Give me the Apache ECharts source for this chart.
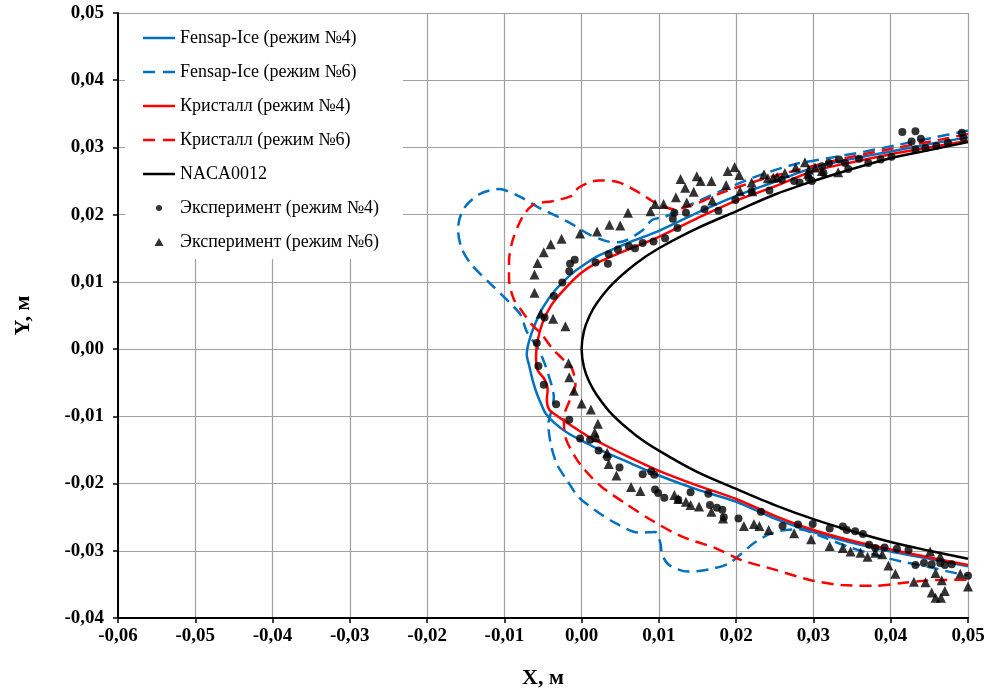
<!DOCTYPE html>
<html>
<head>
<meta charset="utf-8">
<script src="https://cdn.jsdelivr.net/npm/echarts@6/dist/echarts.min.js"></script>
<style>
    html, body { margin: 0; padding: 0; background: #fff; }
    #ice-shape-chart { width: 991px; height: 694px; }
</style>
</head>
<body>
<div id="ice-shape-chart"></div>
<script>
"use strict";

// профиль NACA0012 (передняя кромка)
const naca0012 = [
    [0.05, 0.0308], [0.045, 0.0296], [0.04, 0.0284], [0.035, 0.0268], [0.03, 0.025], [0.025, 0.023],
    [0.02, 0.0205], [0.015, 0.018], [0.01, 0.015], [0.007, 0.0127], [0.004, 0.0097], [0.002, 0.0069],
    [0.001, 0.0049], [0.0003, 0.0027], [0, 0], [0.0003, -0.0027], [0.001, -0.0049], [0.002, -0.0069],
    [0.004, -0.0098], [0.007, -0.0128], [0.01, -0.0151], [0.015, -0.0183], [0.02, -0.0208],
    [0.025, -0.0232], [0.03, -0.0253], [0.035, -0.0271], [0.04, -0.0287], [0.045, -0.03], [0.05, -0.0312]
];

const fensapMode4 = [
    [0.05, 0.0315], [0.045, 0.0305], [0.04, 0.0294], [0.035, 0.0283], [0.03, 0.027], [0.025, 0.0249],
    [0.02, 0.0228], [0.015, 0.0203], [0.01, 0.0176], [0.006, 0.0158], [0.0022, 0.0139], [0.0005, 0.0127],
    [-0.0013, 0.0112], [-0.0034, 0.0088], [-0.0049, 0.0064], [-0.006, 0.0038], [-0.0068, 0.0012],
    [-0.0071, -0.0008], [-0.0068, -0.0024], [-0.0063, -0.0048], [-0.0058, -0.0066], [-0.0053, -0.008],
    [-0.0047, -0.0095], [-0.0036, -0.0109], [-0.0019, -0.0124], [0.0005, -0.0139], [0.0022, -0.0149],
    [0.006, -0.0168], [0.01, -0.0188], [0.015, -0.0209], [0.02, -0.0227], [0.025, -0.0252],
    [0.03, -0.0272], [0.035, -0.0288], [0.04, -0.0301], [0.045, -0.0312], [0.05, -0.0323]
];

const fensapMode6 = [
    [0.05, 0.0325], [0.0453, 0.0314], [0.041, 0.0304], [0.0367, 0.0294], [0.0324, 0.0285], [0.0276, 0.0275],
    [0.0229, 0.0258], [0.0186, 0.0238], [0.0147, 0.0218], [0.0108, 0.0197], [0.0091, 0.0192],
    [0.0078, 0.0176], [0.0048, 0.0159], [0.0031, 0.0161], [0.0009, 0.0171], [-0.0017, 0.0189],
    [-0.0056, 0.0211], [-0.0082, 0.0228], [-0.0107, 0.0238], [-0.0133, 0.023], [-0.0153, 0.0208],
    [-0.016, 0.0179], [-0.0155, 0.0149], [-0.0142, 0.0125], [-0.0116, 0.0095], [-0.0094, 0.007],
    [-0.0079, 0.0051], [-0.0071, 0.0026], [-0.0058, 0.0004], [-0.0049, -0.0018], [-0.0043, -0.0038],
    [-0.0036, -0.0072], [-0.0038, -0.0087], [-0.0043, -0.0112], [-0.004, -0.0141], [-0.0032, -0.0171],
    [-0.0019, -0.0195], [-0.0004, -0.022], [0.0018, -0.024], [0.0044, -0.0259], [0.0074, -0.0273],
    [0.0095, -0.0272], [0.0102, -0.0289], [0.0104, -0.0305], [0.0113, -0.0321], [0.0138, -0.0331],
    [0.0164, -0.0328], [0.019, -0.0319], [0.0207, -0.0304], [0.0225, -0.0287], [0.025, -0.0272],
    [0.0281, -0.0268], [0.0311, -0.0279], [0.0345, -0.0294], [0.038, -0.0306], [0.0414, -0.0316],
    [0.0445, -0.0323], [0.0475, -0.0331], [0.05, -0.0337]
];

const kristallMode4 = [
    [0.05, 0.031], [0.045, 0.03], [0.04, 0.029], [0.035, 0.0278], [0.03, 0.0265], [0.025, 0.0242],
    [0.02, 0.0221], [0.015, 0.0195], [0.01, 0.0167], [0.006, 0.0148], [0.0018, 0.0127], [-0.0002, 0.0112],
    [-0.0023, 0.0088], [-0.004, 0.0064], [-0.0051, 0.0038], [-0.0057, 0.0012], [-0.0059, -0.0011],
    [-0.0057, -0.0031], [-0.0048, -0.0045], [-0.0044, -0.006], [-0.0045, -0.0075], [-0.0042, -0.009],
    [-0.0032, -0.0099], [-0.0013, -0.0114], [0.0007, -0.0129], [0.0022, -0.0138], [0.006, -0.016],
    [0.01, -0.0181], [0.015, -0.0203], [0.02, -0.0223], [0.025, -0.0248], [0.03, -0.0269],
    [0.035, -0.0285], [0.04, -0.0298], [0.045, -0.031], [0.05, -0.0321]
];

const kristallMode6 = [
    [0.05, 0.032], [0.0475, 0.0314], [0.041, 0.03], [0.0345, 0.0285], [0.0281, 0.0267], [0.0229, 0.0251],
    [0.018, 0.0232], [0.0145, 0.0215], [0.0121, 0.0208], [0.0095, 0.0218], [0.0074, 0.0233],
    [0.0048, 0.0248], [0.0022, 0.0251], [-0.0004, 0.024], [-0.0013, 0.0228], [-0.0038, 0.022],
    [-0.006, 0.0216], [-0.0073, 0.0203], [-0.0082, 0.0184], [-0.009, 0.0159], [-0.0094, 0.013],
    [-0.0094, 0.0105], [-0.0088, 0.0075], [-0.0077, 0.0056], [-0.0064, 0.0036], [-0.0051, 0.0021],
    [-0.0038, 0.0001], [-0.0025, -0.0014], [-0.0013, -0.0028], [-0.0008, -0.0053], [-0.0015, -0.0075],
    [-0.0023, -0.0102], [-0.0021, -0.0131], [-0.0008, -0.0161], [0.0005, -0.0181], [0.0026, -0.0205],
    [0.0057, -0.023], [0.0091, -0.0255], [0.013, -0.0279], [0.0173, -0.0296], [0.0207, -0.0314],
    [0.025, -0.0328], [0.0294, -0.0343], [0.0337, -0.0351], [0.038, -0.0352], [0.0414, -0.0348],
    [0.0449, -0.0344], [0.05, -0.0343]
];

const experimentMode4 = [
    [-0.0015, 0.0127], [-0.0009, 0.0133], [-0.0016, 0.0116], [-0.0025, 0.0099], [-0.0036, 0.0079],
    [-0.0048, 0.0047], [-0.0058, 0.0009], [-0.0056, -0.0025], [-0.0049, -0.0053], [-0.0033, -0.0082],
    [-0.0016, -0.0105], [-0.0002, -0.0133], [0.0011, -0.0135], [0.0022, -0.0151], [0.0033, -0.0161],
    [0.0049, -0.0176], [0.0079, -0.0186], [0.009, -0.0182], [0.0094, -0.0187], [0.0095, -0.0209],
    [0.0099, -0.0214], [0.0107, -0.0221], [0.0125, -0.0224], [0.0141, -0.0213], [0.0164, -0.0215],
    [0.0166, -0.0232], [0.0175, -0.0236], [0.0182, -0.0239], [0.0184, -0.025], [0.0203, -0.0252],
    [0.0232, -0.0242], [0.026, -0.0263], [0.028, -0.0261], [0.0299, -0.026], [0.0321, -0.0267],
    [0.0338, -0.0264], [0.0343, -0.0269], [0.0354, -0.0271], [0.0364, -0.0275], [0.0372, -0.0291],
    [0.038, -0.0296], [0.0392, -0.0295], [0.0408, -0.0297], [0.0423, -0.0299], [0.0432, -0.0321],
    [0.0443, -0.0318], [0.0453, -0.032], [0.0464, -0.0318], [0.047, -0.0321], [0.0479, -0.032],
    [0.05, -0.0337],
    [0.0018, 0.0129], [0.0034, 0.0127], [0.0035, 0.0141], [0.0047, 0.0148], [0.0061, 0.0153],
    [0.0069, 0.015], [0.0079, 0.0158], [0.0093, 0.016], [0.0108, 0.0165], [0.0124, 0.018],
    [0.0118, 0.0194], [0.012, 0.0203], [0.0135, 0.0203], [0.0159, 0.0208], [0.0177, 0.0206],
    [0.0199, 0.0222], [0.022, 0.0235], [0.0243, 0.0236], [0.0259, 0.0252], [0.0275, 0.025],
    [0.0282, 0.0248], [0.0294, 0.0254], [0.0298, 0.025], [0.0311, 0.0272], [0.0313, 0.0262],
    [0.032, 0.0277], [0.0333, 0.0282], [0.0341, 0.0277], [0.0345, 0.0268], [0.0359, 0.0283],
    [0.0371, 0.0277], [0.0387, 0.0282], [0.0401, 0.0286], [0.0415, 0.0323], [0.0432, 0.0324],
    [0.0427, 0.0309], [0.0439, 0.0313], [0.0432, 0.0297], [0.0445, 0.0299], [0.0459, 0.0302],
    [0.0474, 0.0307], [0.0492, 0.0322], [0.0494, 0.0314]
];

const experimentMode6 = [
    [-0.0026, 0.0164], [-0.004, 0.0156], [-0.0049, 0.0144], [-0.0057, 0.0128], [-0.0061, 0.0111],
    [-0.0061, 0.0084], [-0.0053, 0.0053], [-0.0037, 0.0045], [-0.0021, 0.0034], [-0.0002, 0.0172],
    [0.002, 0.0175], [0.0036, 0.0185], [0.005, 0.0184], [0.006, 0.0203], [0.0089, 0.0205],
    [0.0095, 0.0216], [0.0106, 0.0216], [0.0122, 0.0226], [0.0128, 0.0253], [0.0134, 0.024],
    [0.0136, 0.0218], [0.0145, 0.0234], [0.0149, 0.0257], [0.0154, 0.025], [0.0168, 0.025],
    [0.0169, 0.0221], [0.0189, 0.0265], [0.0198, 0.0271], [0.0204, 0.0259], [0.0187, 0.0244],
    [0.0205, 0.0235], [0.022, 0.0248], [0.0221, 0.0235], [0.0236, 0.026], [0.0241, 0.0254],
    [0.0248, 0.0255], [0.0253, 0.0256], [0.0263, 0.0262], [0.0277, 0.027], [0.0289, 0.0278],
    [0.0294, 0.0267], [0.0293, 0.0261], [0.0302, 0.027], [0.0311, 0.0265], [0.0332, 0.0263],
    [-0.0017, -0.0021], [-0.0016, -0.0042], [-0.001, -0.0062], [0, -0.0081], [0.0012, -0.009],
    [0.0021, -0.0111], [0.0017, -0.0124], [0.0019, -0.0131], [0.0033, -0.0154], [0.0035, -0.0171],
    [0.0045, -0.0188], [0.0064, -0.0205], [0.0076, -0.0211], [0.012, -0.0217], [0.0125, -0.0223],
    [0.0135, -0.0227], [0.0141, -0.0232], [0.0152, -0.0234], [0.0168, -0.0242], [0.0183, -0.0252],
    [0.021, -0.0263], [0.0223, -0.026], [0.023, -0.0263], [0.0242, -0.0269], [0.0275, -0.0274],
    [0.0297, -0.0283], [0.0321, -0.0293], [0.0338, -0.0296], [0.0348, -0.0301], [0.0361, -0.0303],
    [0.037, -0.0309], [0.038, -0.0303], [0.0389, -0.0305], [0.0397, -0.0322], [0.0406, -0.0334],
    [0.043, -0.0346], [0.0445, -0.0347], [0.0453, -0.0362], [0.0458, -0.037], [0.0465, -0.037],
    [0.047, -0.036], [0.0466, -0.0344], [0.0458, -0.0333], [0.0464, -0.0308], [0.0451, -0.0301],
    [0.049, -0.0334], [0.05, -0.0353]
];

const seriesNames = [
    "Fensap-Ice (режим №4)",
    "Fensap-Ice (режим №6)",
    "Кристалл (режим №4)",
    "Кристалл (режим №6)",
    "NACA0012",
    "Эксперимент (режим №4)",
    "Эксперимент (режим №6)"
];

(function () {
    const serif = '"Liberation Serif", "Times New Roman", serif';
    const blue = '#0070C0';
    const red = '#FF0000';

    // legend icons drawn in a 32x8 box (the M corners keep the box size)
    const legendSolid = 'path://M0,0M32,8M0,2.75H32V5.25H0Z';
    const legendDashed = 'path://M0,0M32,8M0,2.75H12V5.25H0ZM20,2.75H32V5.25H20Z';
    const legendDot = 'path://M0,0M32,8M16,1A3,3 0 1,1 16,7A3,3 0 1,1 16,1Z';
    const legendTriangle = 'path://M0,0M32,8M16,0L20.5,8L11.5,8Z';

    function commaLabel(v) {
        let r = Math.round(v * 100) / 100;
        if (r === 0) r = 0;
        return r.toFixed(2).replace('.', ',');
    }

    function lineSeries(name, data, color, dashed) {
        return {
            name: name,
            type: 'line',
            data: data,
            symbol: 'none',
            smooth: 0.3,
            lineStyle: { color: color, width: 2.5, type: dashed ? [12, 7] : 'solid' },
            itemStyle: { color: color },
            z: 2
        };
    }

    try {
        const chart = echarts.init(document.getElementById('ice-shape-chart'));
        chart.setOption({
            animation: false,
            backgroundColor: '#fff',
            textStyle: { fontFamily: serif },
            grid: { left: 118, right: 23, top: 13, bottom: 74 },
            legend: {
                orient: 'vertical',
                left: 125,
                top: 14,
                padding: [15, 24, 8, 18],
                backgroundColor: '#fff',
                itemWidth: 32,
                itemHeight: 8,
                itemGap: 16,
                itemStyle: { borderWidth: 0 },
                textStyle: { fontFamily: serif, fontSize: 18, color: '#000', lineHeight: 18 },
                data: [
                    { name: seriesNames[0], icon: legendSolid },
                    { name: seriesNames[1], icon: legendDashed },
                    { name: seriesNames[2], icon: legendSolid },
                    { name: seriesNames[3], icon: legendDashed },
                    { name: seriesNames[4], icon: legendSolid },
                    { name: seriesNames[5], icon: legendDot },
                    { name: seriesNames[6], icon: legendTriangle }
                ]
            },
            xAxis: {
                type: 'value',
                min: -0.06,
                max: 0.05,
                interval: 0.01,
                name: 'X, м',
                nameLocation: 'middle',
                nameGap: 49,
                nameTextStyle: { fontFamily: serif, fontSize: 22, fontWeight: 'bold', color: '#000' },
                axisLine: { onZero: false, lineStyle: { color: '#000', width: 2 } },
                axisTick: { show: true, length: 5, lineStyle: { color: '#000', width: 1.5 } },
                axisLabel: { formatter: commaLabel, margin: 9, fontFamily: serif, fontSize: 19, fontWeight: 'bold', color: '#000' },
                splitLine: { show: true, lineStyle: { color: '#a0a0a0', width: 1.2 } }
            },
            yAxis: {
                type: 'value',
                min: -0.04,
                max: 0.05,
                interval: 0.01,
                name: 'Y, м',
                nameLocation: 'middle',
                nameGap: 84,
                nameTextStyle: { fontFamily: serif, fontSize: 22, fontWeight: 'bold', color: '#000' },
                axisLine: { show: true, onZero: false, lineStyle: { color: '#000', width: 2 } },
                axisTick: { show: true, length: 5, lineStyle: { color: '#000', width: 1.5 } },
                axisLabel: { formatter: commaLabel, margin: 14, fontFamily: serif, fontSize: 19, fontWeight: 'bold', color: '#000' },
                splitLine: { show: true, lineStyle: { color: '#a0a0a0', width: 1.2 } }
            },
            series: [
                lineSeries(seriesNames[0], fensapMode4, blue, false),
                lineSeries(seriesNames[1], fensapMode6, blue, true),
                lineSeries(seriesNames[2], kristallMode4, red, false),
                lineSeries(seriesNames[3], kristallMode6, red, true),
                lineSeries(seriesNames[4], naca0012, '#000', false),
                {
                    name: seriesNames[5],
                    type: 'scatter',
                    data: experimentMode4,
                    symbol: 'circle',
                    symbolSize: 8,
                    itemStyle: { color: '#000' },
                    z: 3
                },
                {
                    name: seriesNames[6],
                    type: 'scatter',
                    data: experimentMode6,
                    symbol: 'triangle',
                    symbolSize: 10,
                    itemStyle: { color: '#000' },
                    z: 3
                }
            ]
        });
    } catch (e) {
        console.log(e.name + ': ' + e.message);
    }
})();
</script>
</body>
</html>
